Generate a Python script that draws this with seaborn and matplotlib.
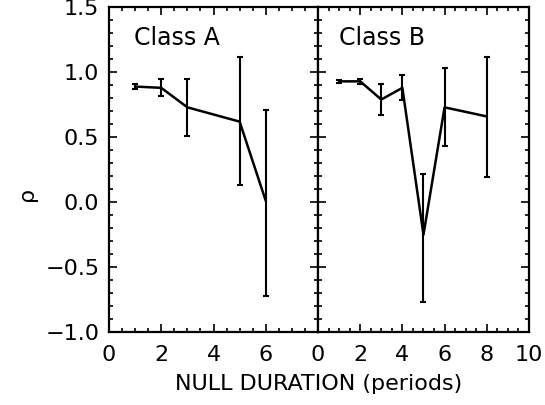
import numpy as np
import pandas as pd
import matplotlib
matplotlib.use('Agg')
import matplotlib.pyplot as plt
from matplotlib.ticker import MultipleLocator
import seaborn as sns

# Class A
dur_a = [1, 2, 3, 5, 6]
rho_a = [0.89, 0.88, 0.73, 0.62, 0.01]
lo_a = [0.87, 0.82, 0.51, 0.13, -0.72]
hi_a = [0.91, 0.95, 0.95, 1.12, 0.71]

# Class B
dur_b = [1, 2, 3, 4, 5, 6, 8]
rho_b = [0.93, 0.93, 0.79, 0.88, -0.25, 0.73, 0.66]
lo_b = [0.92, 0.91, 0.67, 0.79, -0.77, 0.43, 0.19]
hi_b = [0.94, 0.95, 0.91, 0.98, 0.22, 1.03, 1.12]

sns.set_theme(style='ticks')
plt.rcParams['font.family'] = ['DejaVu Sans']
plt.rcParams['text.color'] = 'black'
plt.rcParams['xtick.color'] = 'black'
plt.rcParams['ytick.color'] = 'black'
plt.rcParams['xtick.direction'] = 'in'
plt.rcParams['ytick.direction'] = 'in'

fig = plt.figure(figsize=(5.45, 4.05), dpi=100)
ax1 = fig.add_axes([0.200, 0.180, 0.3835, 0.802])
ax2 = fig.add_axes([0.5835, 0.180, 0.387, 0.802])

panels = [
    (ax1, dur_a, rho_a, lo_a, hi_a, 'Class A', (0, 8), [0, 2, 4, 6]),
    (ax2, dur_b, rho_b, lo_b, hi_b, 'Class B', (0, 10), [0, 2, 4, 6, 8, 10]),
]

for ax, x, y, lo, hi, title, xlim, xt in panels:
    df = pd.DataFrame({'dur': x, 'rho': y})
    sns.lineplot(data=df, x='dur', y='rho', ax=ax, color='black', lw=1.8)
    yerr = [np.array(y) - np.array(lo), np.array(hi) - np.array(y)]
    ax.errorbar(x, y, yerr=yerr, fmt='none', ecolor='black', elinewidth=1.5,
                capsize=2, capthick=1.5)
    ax.set_xlim(*xlim)
    ax.set_ylim(-1.0, 1.5)
    ax.set_xticks(xt)
    ax.xaxis.set_minor_locator(MultipleLocator(0.5))
    ax.set_yticks([-1.0, -0.5, 0.0, 0.5, 1.0, 1.5])
    ax.yaxis.set_minor_locator(MultipleLocator(0.1))
    ax.tick_params(which='both', top=True, right=True, color='black',
                   labelcolor='black', width=1.2)
    ax.tick_params(which='major', length=6, labelsize=16)
    ax.tick_params(axis='x', which='major', pad=9)
    ax.tick_params(axis='y', which='major', pad=7)
    ax.tick_params(which='minor', length=3)
    for s in ax.spines.values():
        s.set_linewidth(1.6)
        s.set_color('black')
    ax.set_xlabel('')
    ax.set_ylabel('')
    ax.text(0.12 if ax is ax1 else 0.1, 0.905, title, transform=ax.transAxes,
            fontsize=17, ha='left', va='center', color='black')

ax1.yaxis.set_major_formatter(plt.FuncFormatter(lambda v, p: f'{v:.1f}'.replace('-', '\u2212')))
ax2.set_yticklabels([])

fig.text(0.05, 0.52, '\u03c1', rotation=90, fontsize=16, ha='center', va='center')
fig.text(0.585, 0.053, 'NULL DURATION (periods)', fontsize=16, ha='center', va='center')

plt.savefig('out.png', dpi=100)
plt.close()
